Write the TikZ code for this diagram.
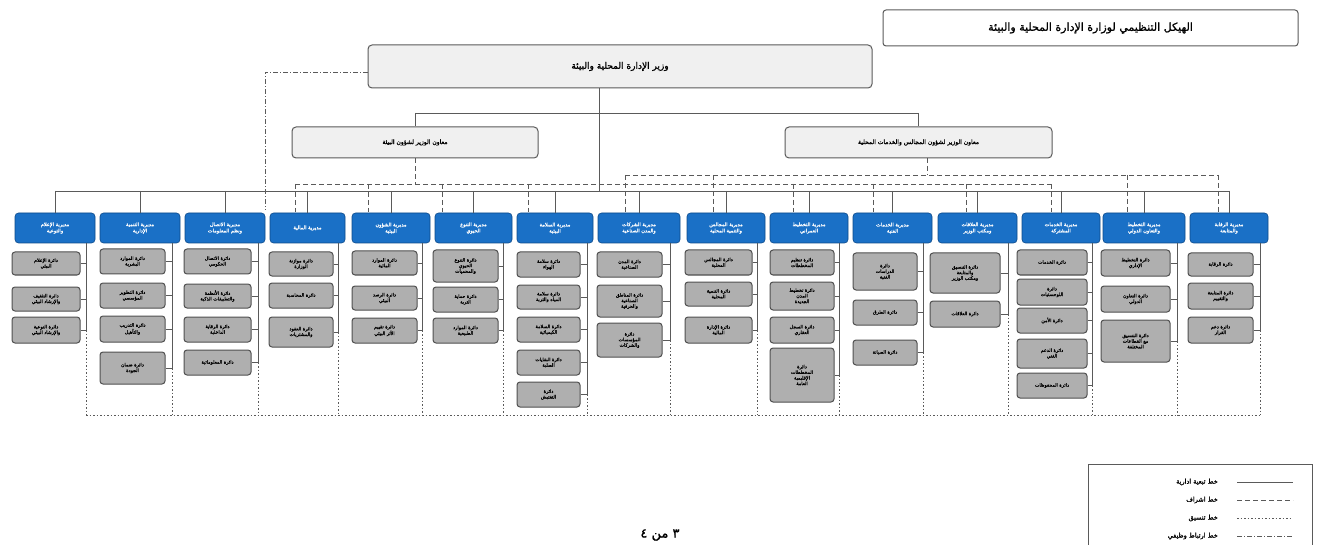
\documentclass[tikz,border=0pt]{standalone}
\usepackage{fontspec}
\newfontfamily\arabicfont[Script=Arabic]{DejaVu Sans}
\newfontfamily\arabicbold[Script=Arabic,FakeBold=1.2]{DejaVu Sans}
\TeXXeTstate=1
\newcommand\AR[1]{\beginR #1\endR}
\definecolor{bluebox}{HTML}{1A70C6}
\definecolor{blueedge}{HTML}{0D4A8A}
\definecolor{subfill}{HTML}{AFAFAF}
\definecolor{subedge}{HTML}{505050}
\definecolor{lightfill}{HTML}{F0F0F0}
\definecolor{lineg}{HTML}{5A5A5A}
\newcommand\sbx[6]{%
  \pgfmathsetmacro\sbW{#4-#2}\pgfmathsetmacro\sbH{#5-#3}%
  \pgfmathsetmacro\sbX{(#2+#4)/2}\pgfmathsetmacro\sbY{(#3+#5)/2}%
  \node[subbox,minimum width=\sbW pt,minimum height=\sbH pt] (#1) at (\sbX,\sbY) {#6};}
\newcommand\bbx[4]{%
  \pgfmathsetmacro\sbW{#3-#2}\pgfmathsetmacro\sbX{(#2+#3)/2}%
  \node[bluehead,minimum width=\sbW pt] (#1) at (\sbX,228) {#4};}
\tikzset{
  subbox/.style={draw=subedge,fill=subfill,line width=1pt,rounded corners=3pt,inner sep=0.5pt,align=center,
    font=\arabicbold\fontsize{4.7}{5.6}\selectfont},
  bluehead/.style={draw=blueedge,fill=bluebox,line width=0.6pt,rounded corners=3.5pt,minimum height=30pt,inner sep=0.5pt,
    align=center,text=white,font=\arabicbold\fontsize{5}{6.2}\selectfont},
  topbox/.style={draw=lineg,fill=lightfill,line width=1pt,rounded corners=4pt,align=center},
  tree/.style={draw=lineg,line width=0.7pt},
  sup/.style={draw=lineg,line width=0.6pt,dash pattern=on 5pt off 3pt},
  dots/.style={draw=lineg,line width=0.7pt,dash pattern=on 1.5pt off 2pt},
  link/.style={draw=lineg,line width=0.6pt,dash pattern=on 5pt off 2pt on 1pt off 2pt},
}
\begin{document}
\begin{tikzpicture}[x=1pt,y=-1pt]
\useasboundingbox (0,0) rectangle (1319,545);
\fill[white] (0,0) rectangle (1319,545);

% title
\node[draw=lineg,fill=white,line width=1pt,rounded corners=3pt,minimum width=415pt,minimum height=36pt,
  font=\arabicbold\fontsize{11}{13}\selectfont] (title) at (1090.5,28) {\AR{الهيكل التنظيمي لوزارة الإدارة المحلية والبيئة}};

% minister
\node[topbox,minimum width=504pt,minimum height=43pt,font=\arabicbold\fontsize{9}{11}\selectfont] (min) at (620,66.5)
  {\AR{وزير الإدارة المحلية والبيئة}};
% advisors
\node[topbox,minimum width=246pt,minimum height=31pt,font=\arabicbold\fontsize{6}{7.5}\selectfont] (advL) at (415,142.5)
  {\AR{معاون الوزير لشؤون البيئة}};
\node[topbox,minimum width=267pt,minimum height=31pt,font=\arabicbold\fontsize{6}{7.5}\selectfont] (advR) at (918.5,142.5)
  {\AR{معاون الوزير لشؤون المجالس والخدمات المحلية}};

% blue headers
\bbx{b1}{15}{95}{\AR{مديرية الإعلام}\\\AR{والتوعية}}
\bbx{b2}{100}{180}{\AR{مديرية التنمية}\\\AR{الإدارية}}
\bbx{b3}{185}{265}{\AR{مديرية الاتصال}\\\AR{ونظم المعلومات}}
\bbx{b4}{270}{345}{\AR{مديرية المالية}}
\bbx{b5}{352}{430}{\AR{مديرية الشؤون}\\\AR{البيئية}}
\bbx{b6}{435}{512}{\AR{مديرية التنوع}\\\AR{الحيوي}}
\bbx{b7}{517}{593}{\AR{مديرية السلامة}\\\AR{البيئية}}
\bbx{b8}{598}{680}{\AR{مديرية الشركات}\\\AR{والمدن الصناعية}}
\bbx{b9}{687}{765}{\AR{مديرية المجالس}\\\AR{والتنمية المحلية}}
\bbx{b10}{770}{848}{\AR{مديرية التخطيط}\\\AR{العمراني}}
\bbx{b11}{853}{932}{\AR{مديرية الخدمات}\\\AR{الفنية}}
\bbx{b12}{938}{1017}{\AR{مديرية العلاقات}\\\AR{ومكتب الوزير}}
\bbx{b13}{1022}{1100}{\AR{مديرية الخدمات}\\\AR{المشتركة}}
\bbx{b14}{1103}{1185}{\AR{مديرية التخطيط}\\\AR{والتعاون الدولي}}
\bbx{b15}{1190}{1268}{\AR{مديرية الرقابة}\\\AR{والمتابعة}}

% trunk and bus
\coordinate (hbar) at (599,113);
\coordinate (bus) at (599,191);
\draw[tree] (min.south -| hbar) -- (bus);
\draw[tree] (advL.north |- hbar) -- (advR.north |- hbar);
\draw[tree] (advL.north |- hbar) -- (advL.north);
\draw[tree] (advR.north |- hbar) -- (advR.north);
\draw[tree] (b1.north |- bus) -- (b15.north |- bus);
\foreach \i in {1,...,15}{\draw[tree] (b\i.north |- bus) -- (b\i.north);}

% supervision (dashed) lines
\coordinate (lowL) at (295,184);
\coordinate (lowR) at (1051,184);
\coordinate (upL) at (625,175);
\coordinate (upR) at (1218,175);
\draw[sup] (lowL) -- (lowR);
\draw[sup] (upL) -- (upR);
\draw[sup] (advL.south) -- (advL.south |- lowL);
\draw[sup] (927,158) -- (927,175);
\foreach \xx/\bb in {295/b4,368/b5,442/b6,528/b7,793/b10,873/b11,966/b12,1051/b13}{
  \draw[sup] (\xx,184) -- (\xx,212.5);}
\foreach \xx/\bb in {625/b8,713/b9,1127/b14,1218/b15}{
  \draw[sup] (\xx,175) -- (\xx,212.5);}

% minister link line
\coordinate (mk) at (265,72);
\coordinate (mk2) at (265,210);
\draw[link] (min.west |- mk) -- (mk) -- (mk2);

% sub boxes
% col1
\sbx{s1a}{12}{252}{80}{275}{\AR{دائرة الإعلام}\\\AR{البيئي}}
\sbx{s1b}{12}{287}{80}{311}{\AR{دائرة التثقيف}\\\AR{والإرشاد البيئي}}
\sbx{s1c}{12}{317}{80}{343}{\AR{دائرة التوعية}\\\AR{والإرشاد البيئي}}
% col2
\sbx{s2a}{100}{249}{165}{274}{\AR{دائرة الموارد}\\\AR{البشرية}}
\sbx{s2b}{100}{283}{165}{308}{\AR{دائرة التطوير}\\\AR{المؤسسي}}
\sbx{s2c}{100}{316}{165}{342}{\AR{دائرة التدريب}\\\AR{والتأهيل}}
\sbx{s2d}{100}{352}{165}{384}{\AR{دائرة ضمان}\\\AR{الجودة}}
% col3
\sbx{s3a}{184}{249}{251}{274}{\AR{دائرة الاتصال}\\\AR{الحكومي}}
\sbx{s3b}{184}{284}{251}{308}{\AR{دائرة الأنظمة}\\\AR{والتطبيقات الذكية}}
\sbx{s3c}{184}{317}{251}{342}{\AR{دائرة الرقابة}\\\AR{الداخلية}}
\sbx{s3d}{184}{350}{251}{375}{\AR{دائرة المعلوماتية}}
% col4
\sbx{s4a}{269}{252}{333}{276}{\AR{دائرة موازنة}\\\AR{الوزارة}}
\sbx{s4b}{269}{283}{333}{308}{\AR{دائرة المحاسبة}}
\sbx{s4c}{269}{317}{333}{347}{\AR{دائرة العقود}\\\AR{والمشتريات}}
% col5
\sbx{s5a}{352}{251}{417}{275}{\AR{دائرة الموارد}\\\AR{المائية}}
\sbx{s5b}{352}{286}{417}{310}{\AR{دائرة الرصد}\\\AR{البيئي}}
\sbx{s5c}{352}{318}{417}{343}{\AR{دائرة تقييم}\\\AR{الأثر البيئي}}
% col6
\sbx{s6a}{433}{250}{498}{282}{\AR{دائرة التنوع}\\\AR{الحيوي}\\\AR{والمحميات}}
\sbx{s6b}{433}{287}{498}{312}{\AR{دائرة حماية}\\\AR{التربة}}
\sbx{s6c}{433}{318}{498}{343}{\AR{دائرة الموارد}\\\AR{الطبيعية}}
% col7
\sbx{s7a}{517}{252}{580}{277}{\AR{دائرة سلامة}\\\AR{الهواء}}
\sbx{s7b}{517}{285}{580}{309}{\AR{دائرة سلامة}\\\AR{المياه والتربة}}
\sbx{s7c}{517}{317}{580}{342}{\AR{دائرة السلامة}\\\AR{الكيميائية}}
\sbx{s7d}{517}{350}{580}{375}{\AR{دائرة النفايات}\\\AR{الصلبة}}
\sbx{s7e}{517}{382}{580}{407}{\AR{دائرة}\\\AR{التفتيش}}
% col8
\sbx{s8a}{597}{252}{662}{277}{\AR{دائرة المدن}\\\AR{الصناعية}}
\sbx{s8b}{597}{285}{662}{317}{\AR{دائرة المناطق}\\\AR{الصناعية}\\\AR{والحرفية}}
\sbx{s8c}{597}{323}{662}{357}{\AR{دائرة}\\\AR{المؤسسات}\\\AR{والشركات}}
% col9
\sbx{s9a}{685}{250}{752}{275}{\AR{دائرة المجالس}\\\AR{المحلية}}
\sbx{s9b}{685}{282}{752}{306}{\AR{دائرة التنمية}\\\AR{المحلية}}
\sbx{s9c}{685}{317}{752}{343}{\AR{دائرة الإدارة}\\\AR{المالية}}
% col10
\sbx{s10a}{770}{250}{834}{275}{\AR{دائرة تنظيم}\\\AR{المخططات}}
\sbx{s10b}{770}{282}{834}{310}{\AR{دائرة تخطيط}\\\AR{المدن}\\\AR{الجديدة}}
\sbx{s10c}{770}{317}{834}{343}{\AR{دائرة السجل}\\\AR{العقاري}}
\sbx{s10d}{770}{348}{834}{402}{\AR{دائرة}\\\AR{المخططات}\\\AR{الإقليمية}\\\AR{العامة}}
% col11
\sbx{s11a}{853}{253}{917}{290}{\AR{دائرة}\\\AR{الدراسات}\\\AR{الفنية}}
\sbx{s11b}{853}{300}{917}{325}{\AR{دائرة الطرق}}
\sbx{s11c}{853}{340}{917}{365}{\AR{دائرة الصيانة}}
% col12
\sbx{s12a}{930}{253}{1000}{293}{\AR{دائرة التنسيق}\\\AR{والمتابعة}\\\AR{ومكتب الوزير}}
\sbx{s12b}{930}{301}{1000}{327}{\AR{دائرة العلاقات}}
% col13
\sbx{s13a}{1017}{250}{1087}{275}{\AR{دائرة الخدمات}}
\sbx{s13b}{1017}{279}{1087}{305}{\AR{دائرة}\\\AR{اللوجستيات}}
\sbx{s13c}{1017}{308}{1087}{333}{\AR{دائرة الأمن}}
\sbx{s13d}{1017}{339}{1087}{368}{\AR{دائرة الدعم}\\\AR{الفني}}
\sbx{s13e}{1017}{373}{1087}{398}{\AR{دائرة المحفوظات}}
% col14
\sbx{s14a}{1101}{250}{1170}{276}{\AR{دائرة التخطيط}\\\AR{الإداري}}
\sbx{s14b}{1101}{286}{1170}{312}{\AR{دائرة التعاون}\\\AR{الدولي}}
\sbx{s14c}{1101}{320}{1170}{362}{\AR{دائرة التنسيق}\\\AR{مع القطاعات}\\\AR{المختلفة}}
% col15
\sbx{s15a}{1188}{253}{1253}{276}{\AR{دائرة الرقابة}}
\sbx{s15b}{1188}{283}{1253}{309}{\AR{دائرة المتابعة}\\\AR{والتقييم}}
\sbx{s15c}{1188}{317}{1253}{343}{\AR{دائرة دعم}\\\AR{القرار}}

% column verticals (solid to last sub, dotted to bottom line)
\foreach \c/\vx/\last/\others in {
  1/86/c/{a,b},
  2/172/d/{a,b,c},
  3/258/d/{a,b,c},
  4/338/c/{a,b},
  5/422/c/{a,b},
  6/503/c/{a,b},
  7/587/e/{a,b,c,d},
  8/670/c/{a,b},
  9/757/c/{a,b},
  10/839/d/{a,b,c},
  11/923/c/{a,b},
  12/1008/b/{a},
  13/1092/e/{a,b,c,d},
  14/1177/c/{a,b},
  15/1260/c/{a,b}}{
  \coordinate (v\c) at (\vx,415);
  \draw[tree] (b\c.south -| v\c) |- (s\c\last.east);
  \foreach \o in \others {\draw[tree] (s\c\o.east) -- (s\c\o.east -| v\c);}
  \draw[dots] (s\c\last.east -| v\c) -- (v\c);
}
\draw[dots] (v1) -- (v15);

% legend
\node[draw=lineg,line width=1.2pt,minimum width=224pt,minimum height=100pt,anchor=north west] (leg) at (1088,464) {};
\begin{scope}[font=\arabicbold\fontsize{6.5}{7.5}\selectfont]
\node[anchor=east,inner sep=0pt] (l1) at (1218,482) {\AR{خط تبعية ادارية}};
\node[anchor=east,inner sep=0pt] (l2) at (1218,500) {\AR{خط اشراف}};
\node[anchor=east,inner sep=0pt] (l3) at (1218,518) {\AR{خط تنسيق}};
\node[anchor=east,inner sep=0pt] (l4) at (1218,536) {\AR{خط ارتباط وظيفي}};
\end{scope}
\coordinate (lx1) at (1237,0); \coordinate (lx2) at (1293,0);
\draw[tree] (lx1 |- l1) -- (lx2 |- l1);
\draw[sup] (lx1 |- l2) -- (lx2 |- l2);
\draw[dots] (lx1 |- l3) -- (lx2 |- l3);
\draw[link] (lx1 |- l4) -- (lx2 |- l4);

% page number
\node[font=\arabicbold\fontsize{13}{15}\selectfont,inner sep=0pt] (pg) at (660,535) {\AR{٣ من ٤}};
\end{tikzpicture}
\end{document}
